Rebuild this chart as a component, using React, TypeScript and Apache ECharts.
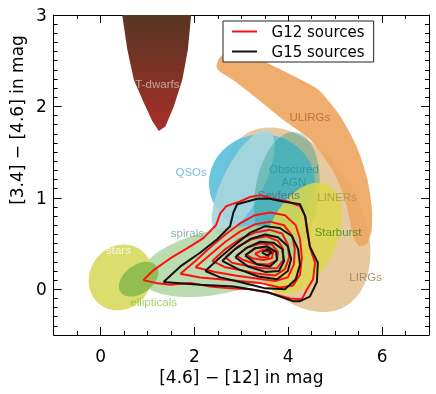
import React, { useEffect, useRef } from "react";
import * as echarts from "echarts";

// ---------- axes ----------
const X_MAJOR = [0, 2, 4, 6];
const Y_MAJOR = [0, 1, 2, 3];

// ---------- shaded regions: [centerX, centerY, halfWidthX, halfHeightY, tilt correlation] ----------
const LIRGS = [4.17, 0.76, 1.58, 1.01, -0.36];
const QSOS = [3.44, 1.16, 1.13, 0.535, 0.0];
const SEYFERTS = [3.04, 1.17, 0.67, 0.567, 0.7];
const OBSCURED_AGN = [3.97, 1.04, 0.7, 0.68, 0.2];
const LINERS = [4.29, 0.556, 0.85, 0.61, 0.4];
const SPIRALS = [2.55, 0.305, 1.7, 0.39, 0.4];
const STARS = [0.425, 0.13, 0.68, 0.36, 0.1];
const ELLIPTICALS = [0.81, 0.11, 0.42, 0.19, 0.4];

const ULIRGS_OUTLINE = [
  [2.47, 2.45], [2.52, 2.52], [2.62, 2.57], [2.78, 2.6], [3.05, 2.58], [3.4, 2.51], [4.05, 2.35],
  [4.65, 2.18], [5.1, 1.9], [5.46, 1.56], [5.68, 1.22], [5.78, 0.9], [5.78, 0.65],
  [5.68, 0.5], [5.52, 0.47], [5.4, 0.55], [5.3, 0.78], [5.2, 1.0], [4.95, 1.3],
  [4.5, 1.62], [3.85, 1.87], [3.3, 2.1], [2.85, 2.28], [2.6, 2.36], [2.5, 2.4],
];

const TDWARFS_OUTLINE = [
  [0.46, 3.0], [0.57, 2.62], [0.71, 2.29], [0.92, 2.04], [1.1, 1.84], [1.24, 1.73],
  [1.38, 1.78], [1.56, 2.0], [1.74, 2.29], [1.86, 2.62], [1.93, 3.0],
];

// ---------- region labels ----------
const LABEL_NAMES = ["T-dwarfs", "ULIRGs", "QSOs", "Obscured\nAGN", "Seyferts", "LINERs", "spirals", "Starburst", "stars", "LIRGs", "ellipticals"];
const LABEL_X = [1.21, 4.46, 1.93, 4.12, 3.8, 5.04, 1.85, 5.06, 0.38, 5.65, 1.13];
const LABEL_Y = [2.25, 1.88, 1.28, 1.24, 1.03, 1.01, 0.62, 0.63, 0.43, 0.13, -0.14];

// ---------- source density contours ----------
const G12_CONTOURS = [
  [[0.91, 0.1], [1.13, 0.21], [1.49, 0.34], [1.85, 0.45], [2.19, 0.56], [2.46, 0.7], [2.55, 0.83], [2.68, 0.91], [2.97, 0.96], [3.19, 1.01], [3.4, 1.03], [3.68, 0.99], [3.99, 0.96], [4.25, 0.91], [4.36, 0.8], [4.42, 0.62], [4.46, 0.46], [4.57, 0.29], [4.53, 0.11], [4.4, 0.0], [4.29, -0.11], [4.04, -0.1], [3.61, -0.04], [3.19, 0.0], [2.76, 0.01], [2.34, 0.03], [1.91, 0.07], [1.49, 0.05], [1.17, 0.07]],
  [[1.7, 0.17], [2.02, 0.31], [2.34, 0.46], [2.66, 0.6], [2.97, 0.72], [3.29, 0.81], [3.61, 0.84], [3.93, 0.81], [4.16, 0.7], [4.25, 0.55], [4.29, 0.35], [4.25, 0.16], [4.1, 0.04], [3.82, 0.02], [3.4, 0.07], [2.97, 0.09], [2.55, 0.11], [2.12, 0.13]],
  [[2.02, 0.24], [2.34, 0.38], [2.66, 0.52], [2.97, 0.63], [3.29, 0.71], [3.61, 0.74], [3.91, 0.7], [4.08, 0.59], [4.14, 0.44], [4.12, 0.27], [3.99, 0.13], [3.72, 0.09], [3.29, 0.12], [2.87, 0.15], [2.44, 0.19]],
  [[2.38, 0.31], [2.66, 0.44], [2.97, 0.55], [3.29, 0.62], [3.61, 0.65], [3.87, 0.61], [3.99, 0.49], [4.02, 0.35], [3.93, 0.22], [3.72, 0.15], [3.36, 0.17], [2.97, 0.21], [2.66, 0.24]],
  [[2.66, 0.35], [2.93, 0.47], [3.23, 0.55], [3.53, 0.58], [3.78, 0.53], [3.89, 0.44], [3.89, 0.32], [3.76, 0.23], [3.44, 0.23], [3.08, 0.26], [2.8, 0.29]],
  [[2.89, 0.37], [3.14, 0.46], [3.4, 0.5], [3.65, 0.49], [3.78, 0.41], [3.76, 0.32], [3.57, 0.27], [3.29, 0.28], [3.04, 0.32]],
  [[3.1, 0.38], [3.31, 0.45], [3.53, 0.46], [3.68, 0.41], [3.65, 0.34], [3.46, 0.32], [3.23, 0.34]],
  [[3.29, 0.39], [3.46, 0.43], [3.61, 0.4], [3.57, 0.35], [3.4, 0.35]],
];

const G15_CONTOURS = [
  [[1.34, 0.08], [1.7, 0.25], [2.12, 0.4], [2.49, 0.55], [2.76, 0.69], [2.83, 0.84], [2.91, 0.93], [3.34, 0.99], [3.61, 0.99], [3.89, 0.96], [4.25, 0.93], [4.36, 0.8], [4.4, 0.65], [4.46, 0.47], [4.63, 0.29], [4.61, 0.08], [4.46, -0.08], [4.25, -0.13], [4.1, -0.13], [3.55, -0.03], [2.83, 0.03], [2.12, 0.05]],
  [[2.23, 0.2], [2.55, 0.35], [2.87, 0.49], [3.19, 0.62], [3.51, 0.69], [3.82, 0.67], [4.08, 0.58], [4.21, 0.44], [4.25, 0.27], [4.16, 0.11], [3.93, 0.0], [3.51, 0.01], [2.97, 0.08], [2.55, 0.13]],
  [[2.59, 0.31], [2.87, 0.44], [3.19, 0.55], [3.51, 0.6], [3.78, 0.57], [3.99, 0.47], [4.06, 0.33], [3.99, 0.2], [3.76, 0.11], [3.36, 0.14], [2.93, 0.22]],
  [[2.87, 0.35], [3.1, 0.45], [3.4, 0.52], [3.68, 0.51], [3.87, 0.44], [3.91, 0.31], [3.8, 0.2], [3.51, 0.19], [3.14, 0.25]],
  [[3.08, 0.37], [3.29, 0.45], [3.55, 0.47], [3.74, 0.41], [3.76, 0.32], [3.61, 0.25], [3.34, 0.27]],
  [[3.44, 0.4], [3.55, 0.44], [3.65, 0.4], [3.55, 0.37]],
];

// ---------- styles ----------
const LABEL_COLORS: Record<string, string> = {
  "T-dwarfs": "#d6c3bb", ULIRGs: "#b2682c", QSOs: "#52b3cf", "Obscured\nAGN": "#1d9a8b",
  Seyferts: "#4c6d86", LINERs: "#a09838", spirals: "#6e9ba2", Starburst: "#3a8a14", stars: "#ffffff",
  LIRGs: "#9a7a55", ellipticals: "#8bc63c",
};
const FONT = "DejaVu Sans";

function ellipseSeries(name: string, params: number[], fill: string, opacity: number) {
  return {
    type: "custom",
    name,
    coordinateSystem: "cartesian2d",
    silent: true,
    encode: { x: 0, y: 1 },
    data: [params],
    renderItem: (_p: any, api: any) => {
      const cx = api.value(0), cy = api.value(1), ax = api.value(2), ay = api.value(3), r = api.value(4);
      const s = Math.sqrt(1 - r * r);
      const pts: number[][] = [];
      for (let i = 0; i < 96; i++) {
        const t = (2 * Math.PI * i) / 96;
        pts.push(api.coord([cx + ax * Math.cos(t), cy + ay * (r * Math.cos(t) + s * Math.sin(t))]));
      }
      return { type: "polygon", shape: { points: pts }, style: { fill, opacity } };
    },
  };
}

function polygonSeries(name: string, outline: number[][], fill: any, opacity: number, smooth: number) {
  return {
    type: "custom",
    name,
    coordinateSystem: "cartesian2d",
    silent: true,
    encode: { x: 0, y: 1 },
    data: outline,
    renderItem: (p: any, api: any) => {
      if (p.dataIndex !== 0) return { type: "group", children: [] };
      const pts = outline.map((pt) => api.coord(pt));
      return { type: "polygon", shape: { points: pts, smooth }, style: { fill, opacity } };
    },
  };
}

function contourSeries(name: string, contours: number[][][], color: string) {
  return contours.map((c) => ({
    type: "line",
    name,
    data: [...c, c[0]],
    symbol: "none",
    showSymbol: false,
    smooth: false,
    silent: true,
    itemStyle: { color },
    lineStyle: { color, width: 2 },
  }));
}

const isMult = (v: number, m: number) => Math.abs(v / m - Math.round(v / m)) < 1e-6;

export default function App() {
  const ref = useRef<HTMLDivElement>(null);
  useEffect(() => {
    const chart = echarts.init(ref.current!, null, { renderer: "svg" });
    const xBase = { type: "value", min: -1, max: 7, gridIndex: 0, splitLine: { show: false } };
    const yBase = { type: "value", min: -0.5, max: 3, gridIndex: 0, splitLine: { show: false } };
    const line = { show: true, onZero: false, lineStyle: { color: "#000", width: 1 } };
    const noLine = { show: false, onZero: false };
    const tdwarfFill = new echarts.graphic.LinearGradient(0, 0, 0, 1, [
      { offset: 0, color: "#573623" },
      { offset: 1, color: "#a62f28" },
    ]);
    const option: any = {
      animation: false,
      grid: { left: 53, right: 7, top: 15, bottom: 59, containLabel: false },
      xAxis: [
        {
          ...xBase, position: "bottom", interval: 0.5, axisLine: line,
          axisTick: { show: true, inside: true, length: 4, lineStyle: { color: "#000" } },
          axisLabel: {
            show: true, margin: 12, fontSize: 17, fontFamily: FONT, color: "#000",
            formatter: (v: number) => (isMult(v, 2) ? String(Math.round(v)) : ""),
          },
          name: "[4.6] − [12] in mag", nameLocation: "middle", nameGap: 33,
          nameTextStyle: { fontSize: 17, fontFamily: FONT, color: "#000" },
        },
        {
          ...xBase, position: "bottom", axisLine: noLine, axisLabel: { show: false },
          axisTick: { show: true, inside: true, length: 8, customValues: X_MAJOR, lineStyle: { color: "#000" } },
        },
        {
          ...xBase, position: "top", interval: 0.5, axisLine: line, axisLabel: { show: false },
          axisTick: { show: true, inside: true, length: 4, lineStyle: { color: "#000" } },
        },
        {
          ...xBase, position: "top", axisLine: noLine, axisLabel: { show: false },
          axisTick: { show: true, inside: true, length: 8, customValues: X_MAJOR, lineStyle: { color: "#000" } },
        },
      ],
      yAxis: [
        {
          ...yBase, position: "left", interval: 0.1, axisLine: line,
          axisTick: { show: true, inside: true, length: 4, lineStyle: { color: "#000" } },
          axisLabel: {
            show: true, margin: 7, fontSize: 17, fontFamily: FONT, color: "#000",
            formatter: (v: number) => (isMult(v, 1) ? String(Math.round(v)) : ""),
          },
          name: "[3.4] − [4.6] in mag", nameLocation: "middle", nameGap: 26,
          nameTextStyle: { fontSize: 17, fontFamily: FONT, color: "#000", padding: [0, 0, 0, 110] },
        },
        {
          ...yBase, position: "left", axisLine: noLine, axisLabel: { show: false },
          axisTick: { show: true, inside: true, length: 8, customValues: Y_MAJOR, lineStyle: { color: "#000" } },
        },
        {
          ...yBase, position: "right", interval: 0.1, axisLine: line, axisLabel: { show: false },
          axisTick: { show: true, inside: true, length: 4, lineStyle: { color: "#000" } },
        },
        {
          ...yBase, position: "right", axisLine: noLine, axisLabel: { show: false },
          axisTick: { show: true, inside: true, length: 8, customValues: Y_MAJOR, lineStyle: { color: "#000" } },
        },
      ],
      legend: {
        data: ["G12 sources", "G15 sources"],
        left: 223, top: 21, orient: "vertical",
        icon: "rect", itemWidth: 25, itemHeight: 2, itemGap: 3,
        padding: [2, 9, 2, 9],
        borderColor: "#222", borderWidth: 1, backgroundColor: "#fff",
        formatter: (n: string) => "  " + n,
        textStyle: { fontSize: 15, fontFamily: FONT, color: "#000", lineHeight: 17 },
        selectedMode: false,
      },
      series: [
        ellipseSeries("LIRGs", LIRGS, "#e7c9a0", 1),
        ellipseSeries("QSOs", QSOS, "#63c1de", 0.95),
        ellipseSeries("Seyferts", SEYFERTS, "#a9d6dd", 0.9),
        ellipseSeries("Obscured AGN", OBSCURED_AGN, "#2a9a88", 0.4),
        ellipseSeries("LINERs", LINERS, "#dcd74c", 0.85),
        polygonSeries("ULIRGs", ULIRGS_OUTLINE, "#eea662", 0.92, 0.2),
        ellipseSeries("spirals", SPIRALS, "#a9d39c", 0.8),
        ellipseSeries("stars", STARS, "#dbde6d", 1),
        ellipseSeries("ellipticals", ELLIPTICALS, "#89b94b", 0.9),
        polygonSeries("T-dwarfs", TDWARFS_OUTLINE, tdwarfFill, 1, 0),
        {
          type: "scatter",
          name: "labels",
          silent: true,
          symbolSize: 1,
          itemStyle: { color: "transparent" },
          data: LABEL_NAMES.map((n, i) => ({
            name: n,
            value: [LABEL_X[i], LABEL_Y[i]],
            label: { color: LABEL_COLORS[n] },
          })),
          label: {
            show: true, position: "inside", formatter: "{b}",
            fontSize: 11.5, lineHeight: 13, fontFamily: "Liberation Sans",
          },
        },
        ...contourSeries("G12 sources", G12_CONTOURS, "#ff1010"),
        ...contourSeries("G15 sources", G15_CONTOURS, "#111111"),
      ],
    };
    chart.setOption(option);
    return () => chart.dispose();
  }, []);
  return <div ref={ref} style={{ position: "fixed", left: 0, top: 0, width: 436, height: 394 }} />;
}
